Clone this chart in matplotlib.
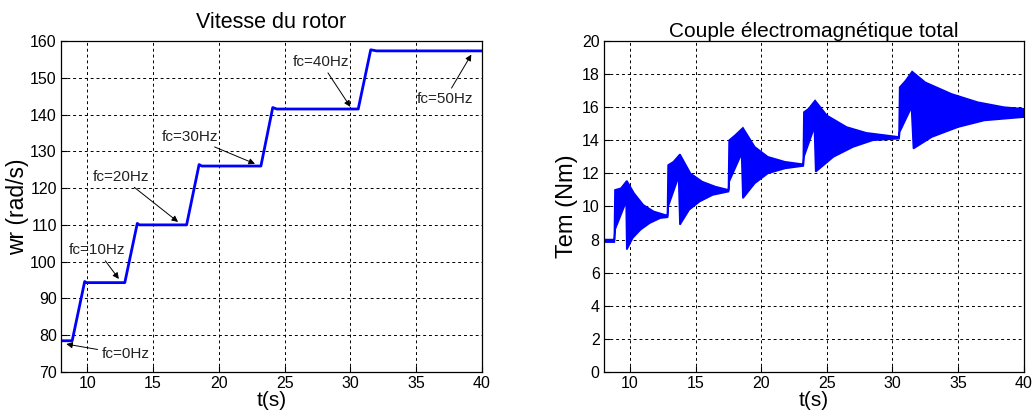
import matplotlib.pyplot as plt
import numpy as np

plt.rcParams['font.family'] = ['Liberation Sans', 'DejaVu Sans']

# rotor speed (rad/s)
t_speed = [8.0, 8.85, 9.8, 9.95, 12.85, 13.8, 13.95, 17.55, 18.5, 18.7, 23.2, 24.1, 24.4, 30.6, 31.55, 32.0, 40.0]
w_speed = [78.5, 78.5, 94.6, 94.3, 94.3, 110.4, 110.0, 110.0, 126.4, 126.0, 126.0, 141.9, 141.5, 141.5, 157.6, 157.3, 157.3]

# electromagnetic torque envelope (Nm)
t_upper = [8.0, 8.8, 8.85, 9.3, 9.75, 10.3, 11.0, 11.8, 12.85,
           12.9, 13.3, 13.8, 14.6, 15.5, 16.5, 17.5,
           17.55, 18.0, 18.6, 19.5, 20.5, 21.8, 23.2,
           23.25, 23.6, 24.1, 25.0, 26.5, 28.0, 30.5,
           30.55, 31.0, 31.5, 32.5, 34.5, 36.5, 38.5, 40.0]
tem_upper = [8.0, 8.0, 11.0, 11.1, 11.55, 10.8, 10.1, 9.7, 9.45,
             12.5, 12.7, 13.15, 12.0, 11.5, 11.2, 11.0,
             14.0, 14.3, 14.75, 13.6, 13.0, 12.7, 12.55,
             15.7, 15.9, 16.4, 15.5, 14.8, 14.45, 14.2,
             17.2, 17.6, 18.15, 17.5, 16.8, 16.3, 16.0, 15.9]
t_lower = [8.0, 8.8, 8.85, 9.7, 9.75, 10.2, 10.8, 11.5, 12.3, 12.85,
           12.9, 13.7, 13.8, 14.5, 15.3, 16.3, 17.5,
           17.55, 18.5, 18.6, 19.5, 20.5, 21.8, 23.2,
           23.25, 24.05, 24.15, 25.5, 27.0, 28.5, 30.5,
           30.55, 31.45, 31.6, 33.0, 35.0, 37.0, 40.0]
tem_lower = [7.85, 7.85, 8.6, 10.3, 7.4, 8.1, 8.6, 9.0, 9.3, 9.35,
             10.0, 11.8, 8.9, 9.8, 10.3, 10.7, 10.9,
             11.5, 13.2, 10.5, 11.4, 12.0, 12.3, 12.45,
             13.0, 14.8, 12.1, 13.0, 13.6, 14.0, 14.1,
             14.5, 16.0, 13.5, 14.2, 14.8, 15.2, 15.4]

annotations = [
    ("fc=0Hz", (8.4, 77.6), (11.1, 74.8), "left"),
    ("fc=10Hz", (12.4, 95.3), (10.75, 103.2), "center"),
    ("fc=20Hz", (16.9, 110.8), (12.55, 123.1), "center"),
    ("fc=30Hz", (22.75, 126.6), (17.8, 134.0), "center"),
    ("fc=40Hz", (30.0, 142.1), (27.75, 154.3), "center"),
    ("fc=50Hz", (39.2, 156.3), (37.2, 144.2), "center"),
]

fig = plt.figure(figsize=(10.34, 4.18), dpi=100)
ax1 = fig.add_axes([0.059, 0.110, 0.407, 0.792])
ax2 = fig.add_axes([0.584, 0.110, 0.406, 0.792])

blue = (0, 0, 1)
ax1.plot(t_speed, w_speed, color=blue, lw=2.0)
for label, xy, xytext, ha in annotations:
    ax1.annotate(label, xy=xy, xytext=xytext, ha=ha, va="center", fontsize=11,
                 color="#222222",
                 arrowprops=dict(arrowstyle="-|>", color="black", lw=0.7,
                                 mutation_scale=9, shrinkA=1, shrinkB=0))

poly_t = np.concatenate([t_upper, t_lower[::-1]])
poly_v = np.concatenate([tem_upper, tem_lower[::-1]])
ax2.fill(poly_t, poly_v, facecolor=blue, edgecolor=blue, lw=1.2)

ax1.set_xlim(8, 40)
ax1.set_ylim(70, 160)
ax1.set_xticks([10, 15, 20, 25, 30, 35, 40])
ax1.set_yticks(range(70, 161, 10))
ax1.set_title("Vitesse du rotor", fontsize=15.5, pad=9)
ax1.set_ylabel("wr (rad/s)", fontsize=16.5, labelpad=1)
ax1.set_xlabel("t(s)", fontsize=15, labelpad=0)

ax2.set_xlim(8, 40)
ax2.set_ylim(0, 20)
ax2.set_xticks([10, 15, 20, 25, 30, 35, 40])
ax2.set_yticks(range(0, 21, 2))
ax2.set_title("Couple électromagnétique total", fontsize=15, pad=3)
ax2.set_ylabel("Tem (Nm)", fontsize=17, labelpad=3)
ax2.set_xlabel("t(s)", fontsize=15, labelpad=0)

for ax in (ax1, ax2):
    ax.grid(True, color="black", linestyle=(0, (3, 3)), lw=0.7)
    ax.set_axisbelow(True)
    ax.tick_params(direction="in", length=4, labelsize=11.5, pad=3)
    for s in ax.spines.values():
        s.set_linewidth(0.9)

fig.savefig("out.png", dpi=100)
